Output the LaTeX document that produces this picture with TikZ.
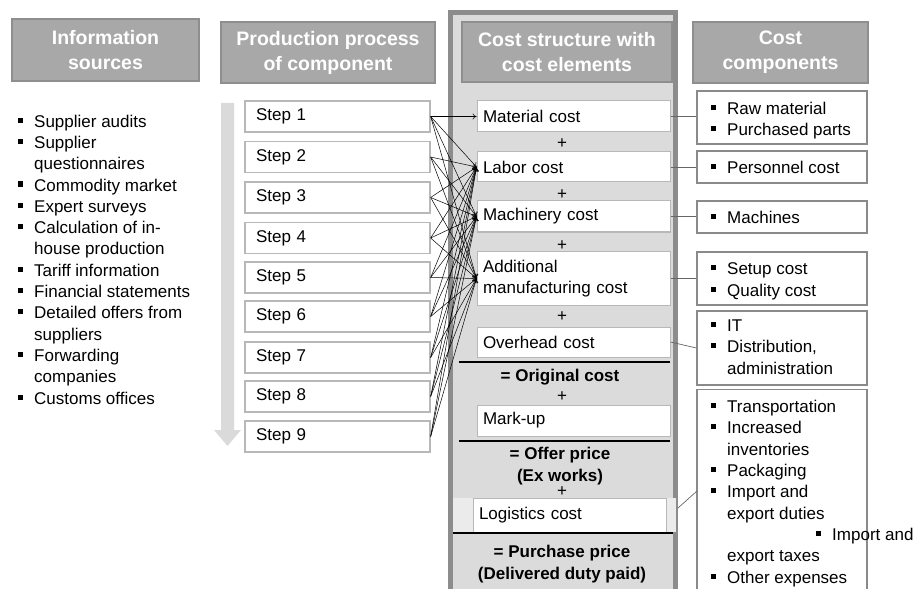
\documentclass[tikz,border=0pt]{standalone}
\usepackage{fontspec}
\setmainfont{Liberation Sans}
\usetikzlibrary{arrows.meta}
\definecolor{hdrfill}{HTML}{A8A8A8}
\definecolor{hdrline}{HTML}{8E8E8E}
\definecolor{panelfill}{HTML}{DBDBDB}
\definecolor{panelline}{HTML}{8C8C8C}
\definecolor{boxline}{HTML}{B8B8B8}
\definecolor{compline}{HTML}{8A8A8A}
\definecolor{bandgray}{HTML}{DADADA}
\newcommand\bul{\makebox[16bp][l]{\rule[4.5bp]{5bp}{5bp}}}
\newcommand\cont{\hspace*{16bp}}
\begin{document}
\begin{tikzpicture}[x=1bp,y=-1bp,
  font=\fontsize{17bp}{21.3bp}\selectfont,
  header/.style={draw=hdrline,line width=2bp,fill=hdrfill,text=white,
    font=\fontsize{19.5bp}{25bp}\selectfont\bfseries,align=center,inner sep=0},
  stepbox/.style={draw=boxline,line width=1.3bp,fill=white,minimum width=185bp,
    minimum height=31bp,text width=163bp,inner xsep=11bp,align=left},
  elem/.style={draw=boxline,line width=1bp,fill=white,minimum width=193bp,
    text width=181bp,inner xsep=6bp,align=left},
  comp/.style={draw=compline,line width=1.3bp,fill=white,minimum width=170bp,inner sep=0},
  lst/.style={anchor=base west,align=left,inner sep=0},
  sumtext/.style={font=\fontsize{17bp}{21.3bp}\selectfont\bfseries,align=center,inner sep=0},
  plus/.style={inner sep=0},
  flow/.style={-{To[length=4bp,width=6bp]},line width=0.5bp},
  link/.style={draw=black!60,line width=0.7bp},
  sumline/.style={line width=2.2bp}]
\useasboundingbox (0,0) rectangle (917,589);

\node[draw=panelline,fill=panelfill,line width=5bp,minimum width=225bp,
  minimum height=600bp,anchor=north,inner sep=0] (panel) at (563,10.5) {};
\fill[bandgray] (221,103) -- (234,103) -- (234,430) -- (241,430) -- (227.5,446)
  -- (214,430) -- (221,430) -- cycle;

\node[header,minimum width=187bp,minimum height=62bp] (hinfo) at (105.5,50) {Information\\sources};
\node[header,minimum width=214bp,minimum height=61bp] (hprod) at (328,52.5) {Production process\\of component};
\node[header,minimum width=210bp,minimum height=60bp] (hcost) at (567,52) {Cost structure with\\cost elements};
\node[header,minimum width=175bp,minimum height=61bp] (hcomp) at (780.5,52.5) {Cost\\components};

% list nodes sit on the baseline of their last line
\node[lst] (srcs) at (18,404) {\bul Supplier audits\\\bul Supplier\\\cont questionnaires\\
  \bul Commodity market\\\bul Expert surveys\\\bul Calculation of in-\\\cont house production\\
  \bul Tariff information\\\bul Financial statements\\\bul Detailed offers from\\\cont suppliers\\
  \bul Forwarding\\\cont companies\\\bul Customs offices};

\foreach \i/\y in {1/116.5,2/157,3/197.5,4/238,5/277.5,6/316.5,7/357.5,8/396.5,9/436.5}
  \node[stepbox] (s\i) at (337.5,\y) {Step \i};

\node[elem,minimum height=31bp] (mat) at (573.5,116.5) {Material cost};
\node[plus] (p1) at (562,144) {+};
\node[elem,minimum height=30bp] (lab) at (573.5,167) {Labor cost};
\node[plus] (p2) at (562,195) {+};
\node[elem,minimum height=31bp] (mach) at (573.5,216.5) {Machinery cost};
\node[plus] (p3) at (562,246) {+};
\node[elem,minimum height=53bp] (add) at (573.5,278.5) {Additional\\manufacturing cost};
\node[plus] (p4) at (562,317) {+};
\node[elem,minimum height=30bp] (ovh) at (573.5,342) {Overhead cost};
\node[sumtext] (orig) at (560,377) {= Original cost};
\node[plus] (p5) at (562,397) {+};
\node[elem,minimum height=31bp] (mark) at (573.5,420.5) {Mark-up};
\node[sumtext] (offer) at (560,466) {= Offer price\\(Ex works)};
\node[plus] (p6) at (562,492) {+};
\fill[black!8] (453,498) rectangle (676,532);
\node[elem,minimum height=34bp] (log) at (569.5,515) {Logistics cost};
\node[sumtext] (purch) at (562,564) {= Purchase price\\(Delivered duty paid)};

\draw[sumline] (459,362) -- (670,362);
\draw[sumline] (459,441) -- (670,441);
\draw[sumline] (453,533) -- (673,533);

\node[comp,minimum height=53bp] (c1) at (782,117.5) {};
\node[comp,minimum height=32bp] (c2) at (782,167) {};
\node[comp,minimum height=32bp] (c3) at (782,217) {};
\node[comp,minimum height=53bp] (c4) at (782,278.5) {};
\node[comp,minimum height=74bp] (c5) at (782,348) {};
\node[comp,minimum height=220bp,anchor=north] (c6) at (782,389) {};

\node[lst] (t1) at (711,136) {\bul Raw material\\\bul Purchased parts};
\node[lst] (t2) at (711,174) {\bul Personnel cost};
\node[lst] (t3) at (711,224) {\bul Machines};
\node[lst] (t4) at (711,296) {\bul Setup cost\\\bul Quality cost};
\node[lst] (t5) at (711,374) {\bul IT\\\bul Distribution,\\\cont administration};
\node[lst] (t6) at (711,583) {\bul Transportation\\\bul Increased\\\cont inventories\\
  \bul Packaging\\\bul Import and\\\cont export duties\\\hspace*{105bp}\bul Import and\\
  \cont export taxes\\\bul Other expenses};

\draw[flow] (s1.east) -- (mat.west);
\foreach \i in {1,...,9}
  \foreach \t in {lab,mach,add}
    \draw[flow] (s\i.east) -- (\t.west);

\draw[link] (mat.east) -- (mat.east -| c1.west);
\draw[link] (lab.east) -- (lab.east -| c2.west);
\draw[link] (mach.east) -- (mach.east -| c3.west);
\draw[link] (add.east) -- (add.east -| c4.west);
\draw[link] (ovh.east) -- (c5.west);
\coordinate (lgout) at (678,508);
\coordinate (lgin) at (697,491);
\draw[link] (lgout) -- (lgin);
\end{tikzpicture}
\end{document}
